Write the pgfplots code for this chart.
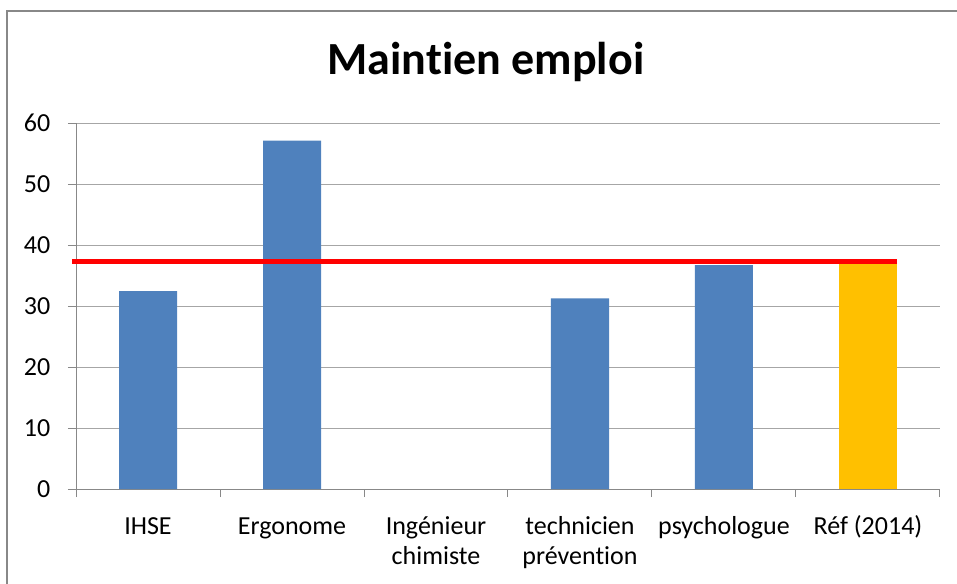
\documentclass[border=0pt]{standalone}
\usepackage{pgfplots}
\pgfplotsset{compat=1.18}
\usepackage{fontspec}
\setmainfont{Carlito}[Ligatures={NoCommon}]
\definecolor{barblue}{HTML}{4F81BD}
\definecolor{barorange}{HTML}{FFC000}
\definecolor{axgray}{HTML}{888888}
\definecolor{gridgray}{HTML}{A6A6A6}
\newcommand{\ph}{\vphantom{Éj}}
\begin{document}
\begin{tikzpicture}
\path[use as bounding box] (0,0) rectangle (717.75pt,437.25pt);
\draw[color=axgray, line width=1.5pt] (5.25pt,-2pt) -- (5.25pt,429pt) -- (722pt,429pt);
\node[font=\fontsize{34.5}{40}\selectfont\bfseries, anchor=base, inner sep=0pt] at (364.5pt,381pt) {Maintien emploi};
\begin{axis}[
  at={(57pt,70.5pt)}, anchor=south west,
  width=648pt, height=274.5pt, scale only axis,
  xmin=-0.5, xmax=5.5, ymin=0, ymax=60,
  ytick={0,10,...,60},
  xtick={0,1,2,3,4,5},
  xticklabels={\ph IHSE, \ph Ergonome, {\ph Ingénieur\\chimiste}, {\ph technicien\\prévention}, \ph psychologue, {\ph Réf (2014)}},
  minor xtick={-0.5,0.5,1.5,2.5,3.5,4.5,5.5},
  axis lines*=left,
  axis line style={axgray, line width=0.75pt},
  ymajorgrids, major grid style={gridgray, line width=0.75pt},
  tick align=outside,
  major tick length=6pt, minor tick length=6pt,
  tick style={axgray, line width=0.75pt},
  major x tick style={draw=none},
  /pgf/number format/assume math mode=true,
  ticklabel style={font=\fontsize{19.5}{22.5}\selectfont, text=black},
  xticklabel style={align=center, anchor=north, yshift=-8.5pt},
  yticklabel style={anchor=east, xshift=-9.75pt},
  clip=false,
]
\addplot[ybar, bar width=43.5pt, bar shift=0pt, fill=barblue, draw=none] coordinates {(0,32.45) (1,57.1) (3,31.25) (4,36.7)};
\addplot[ybar, bar width=43.5pt, bar shift=0pt, fill=barorange, draw=none] coordinates {(5,37.3)};
\addplot[color=red, line width=3.4pt, mark=none] coordinates {(-0.528,37.33) (5.2,37.33)};
\end{axis}
\end{tikzpicture}
\end{document}
